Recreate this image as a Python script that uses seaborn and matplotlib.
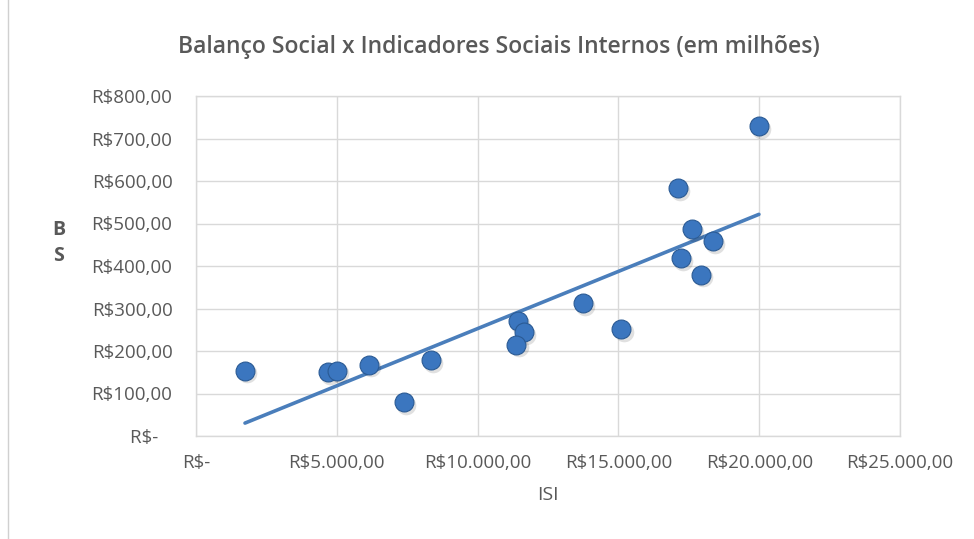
import matplotlib
matplotlib.use("Agg")
import matplotlib.pyplot as plt
import seaborn as sns
import pandas as pd
from matplotlib.ticker import FuncFormatter
from matplotlib.patches import Rectangle

# Data (ISI in R$, BS in R$ millions)
isi = [1740, 4700, 5020, 6140, 7370, 8330, 11420, 11660, 11380,
       13750, 15110, 17110, 17220, 17610, 17930, 18350, 19990]
bs = [154, 150, 154, 168, 79, 178, 270, 244, 215,
      312, 252, 584, 419, 486, 380, 459, 729]

title = "Balanço Social x Indicadores Sociais Internos (em milhões)"
xlabel = "ISI"
ylabel = "B\nS"

df = pd.DataFrame({"ISI": isi, "BS": bs})

sns.set_theme(style="white")
plt.rcParams["font.family"] = ["Open Sans", "DejaVu Sans"]

fig = plt.figure(figsize=(9.74, 5.39), dpi=100)
ax = fig.add_axes([196/974, 1-436/539, (900-196)/974, (436-96)/539])

grey = "#595959"
grid = "#D9D9D9"

# regression trendline
sns.regplot(data=df, x="ISI", y="BS", ax=ax, scatter=False, ci=None,
            truncate=True, line_kws=dict(color="#4A7EBB", lw=2.6, zorder=2))
# shadow
sns.scatterplot(data=df, x="ISI", y="BS", ax=ax, s=200, color="#000000",
                alpha=0.12, linewidth=0, zorder=2.5,
                transform=ax.transData + matplotlib.transforms.ScaledTranslation(1.5/72, -2/72, fig.dpi_scale_trans))
sns.scatterplot(data=df, x="ISI", y="BS", ax=ax, s=185, color="#3B76BF",
                edgecolor="#2A5A94", linewidth=0.8, zorder=3)

ax.set_xlim(0, 25000)
ax.set_ylim(0, 800)
ax.set_xticks(range(0, 25001, 5000))
ax.set_yticks(range(0, 801, 100))

def fmt_x(v, pos):
    if v == 0:
        return "R$-"
    s = f"{v:,.2f}".replace(",", "X").replace(".", ",").replace("X", ".")
    return "R$" + s

def fmt_y(v, pos):
    if v == 0:
        return "R$-   "
    s = f"{v:,.2f}".replace(",", "X").replace(".", ",").replace("X", ".")
    return "R$" + s

ax.xaxis.set_major_formatter(FuncFormatter(fmt_x))
ax.yaxis.set_major_formatter(FuncFormatter(fmt_y))
ax.tick_params(axis="both", length=0, labelsize=13.5, labelcolor=grey)
ax.tick_params(axis="y", pad=17)
ax.tick_params(axis="x", pad=13)

ax.grid(True, color=grid, lw=1)
for sp in ax.spines.values():
    sp.set_visible(True)
    sp.set_color(grid)
    sp.set_linewidth(1)

ax.set_xlabel(xlabel, fontsize=14, color=grey, labelpad=10)
ax.set_ylabel(ylabel, fontsize=14, color=grey, rotation=0, labelpad=0,
              fontweight="bold", linespacing=1.4)
ax.yaxis.set_label_coords(-0.195, 0.5)

fig.text(499/974, 1-47/539, title, ha="center", va="center", fontsize=16.5,
         color=grey, fontweight="semibold")

fig.patches.append(Rectangle((8/974, -0.01), 2, 1.02, transform=fig.transFigure,
                             fill=False, edgecolor="#D0D0D0", lw=1))

fig.savefig("out.png", dpi=100)
